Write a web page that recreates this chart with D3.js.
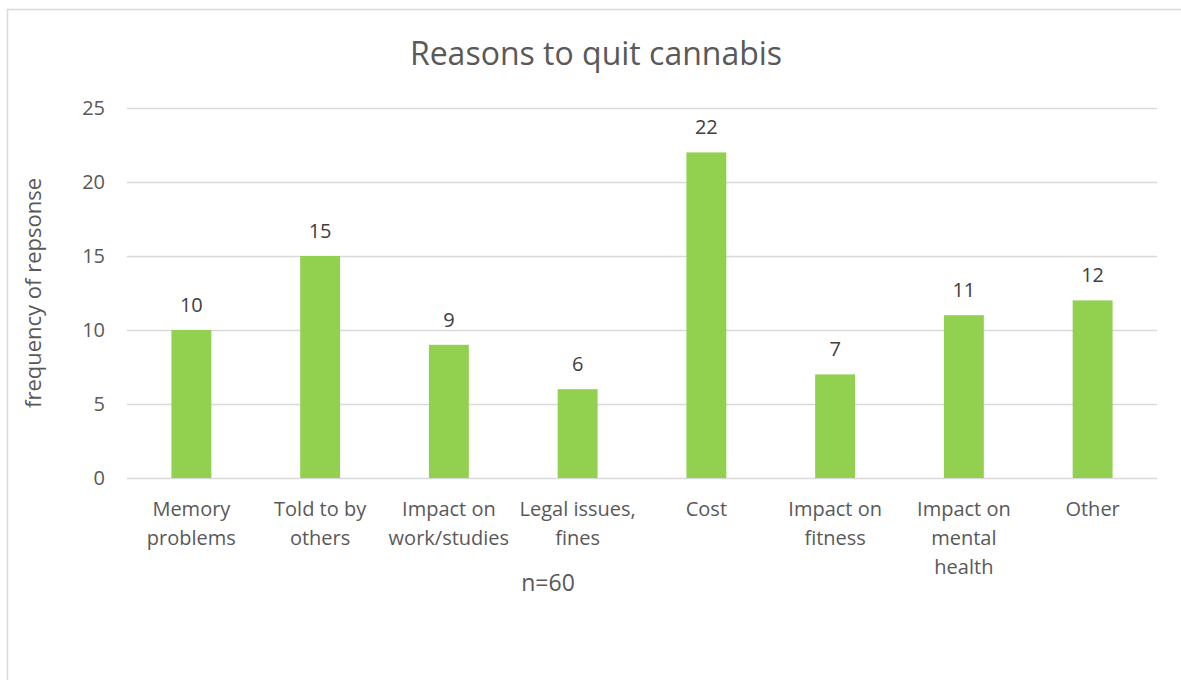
<!DOCTYPE html>
<html><head><meta charset="utf-8">
<script src="https://cdn.jsdelivr.net/npm/d3@7"></script>
<style>body{margin:0;background:#fff}svg{display:block}text{font-family:"Open Sans",sans-serif}</style>
</head><body><svg id="c" width="1181" height="680"></svg>
<script>
const categories = [["Memory","problems"],["Told to by","others"],["Impact on","work/studies"],["Legal issues,","fines"],["Cost"],["Impact on","fitness"],["Impact on","mental","health"],["Other"]];
const values = [10,15,9,6,22,7,11,12];
const yTicks = [0,5,10,15,20,25];
const title = "Reasons to quit cannabis";
const yTitle = "frequency of repsonse";
const note = "n=60";

const svg = d3.select("#c");
svg.append("rect").attr("x",7.5).attr("y",9.5).attr("width",1190).attr("height",700)
  .attr("fill","#fff").attr("stroke","#d9d9d9").attr("stroke-width",1.5);

const m = {l:127, r:1157, t:108, b:478};
const keys = categories.map((d,i)=>i);
const x = d3.scaleBand().domain(keys).range([m.l,m.r]).paddingInner(0.69).paddingOuter(0.345);
const y = d3.scaleLinear().domain([0,25]).range([m.b,m.t]);

const yAxis = svg.append("g").attr("transform",`translate(${m.l},0)`)
  .call(d3.axisLeft(y).tickValues(yTicks).tickSize(-(m.r-m.l)).tickPadding(22));
yAxis.select(".domain").remove();
yAxis.selectAll("line").attr("stroke","#d9d9d9").attr("stroke-width",1.5);
yAxis.selectAll("text").attr("fill","#595959").style("font-size","20px").style("font-family","'Open Sans',sans-serif");

svg.selectAll("rect.bar").data(values).join("rect").attr("class","bar")
  .attr("x",(d,i)=>x(i)).attr("width",x.bandwidth())
  .attr("y",d=>y(d)).attr("height",d=>y(0)-y(d)).attr("fill","#92d050");

svg.selectAll("text.lbl").data(values).join("text").attr("class","lbl")
  .attr("x",(d,i)=>x(i)+x.bandwidth()/2).attr("y",d=>y(d)-18)
  .attr("text-anchor","middle").attr("fill","#404040").style("font-size","20px").text(d=>d);

const xg = svg.append("g");
categories.forEach((lines,i)=>{
  const t = xg.append("text").attr("text-anchor","middle").attr("fill","#595959").style("font-size","20px");
  lines.forEach((ln,j)=>t.append("tspan").attr("x",x(i)+x.bandwidth()/2).attr("y",516+j*29).text(ln));
});

svg.append("text").attr("x",596).attr("y",65).attr("text-anchor","middle").attr("fill","#595959")
  .style("font-size","32px").text(title);
svg.append("text").attr("transform",`translate(41,${(m.t+m.b)/2}) rotate(-90)`).attr("text-anchor","middle")
  .attr("fill","#595959").style("font-size","22px").text(yTitle);
svg.append("text").attr("x",548).attr("y",591).attr("text-anchor","middle").attr("fill","#595959")
  .style("font-size","23px").text(note);
</script></body></html>
